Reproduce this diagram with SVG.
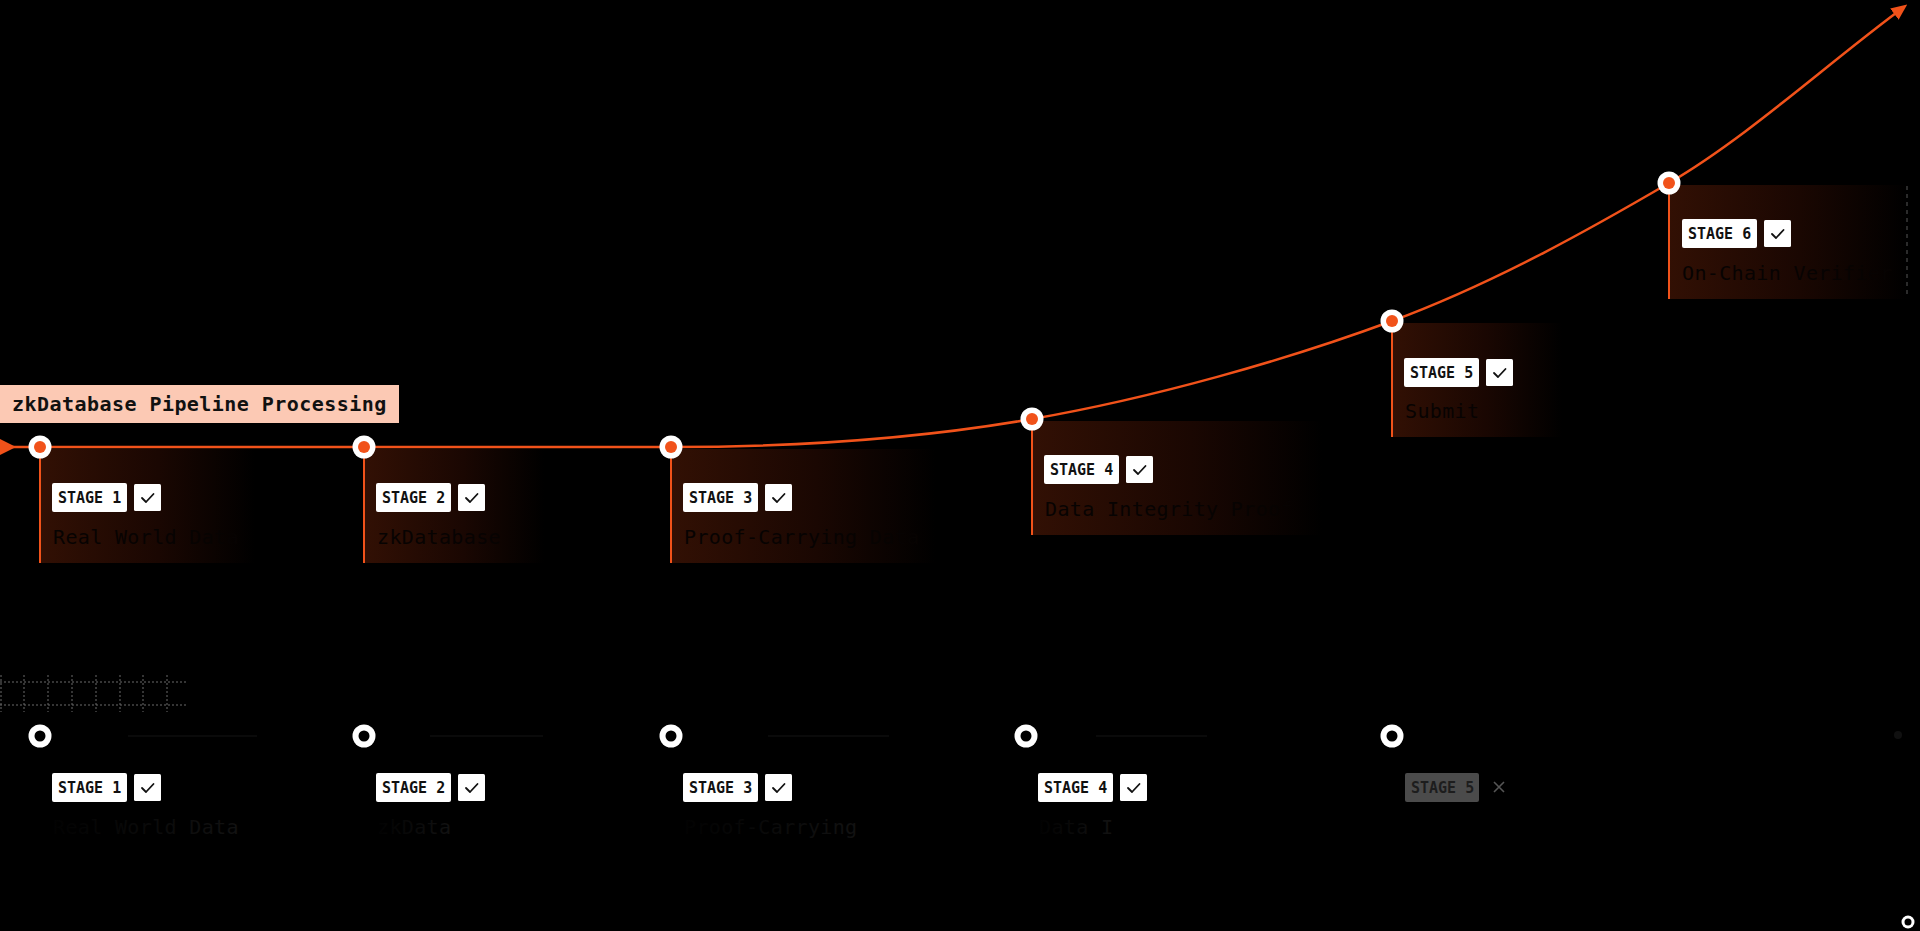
<svg xmlns="http://www.w3.org/2000/svg" width="1920" height="931" viewBox="0 0 1920 931">
<defs>
<style>
.bg{fill:#000}
.card{fill:url(#cardGrad)}
.stem{stroke:#f1521a;stroke-width:2}
.badge{fill:#fff}
.badgeOff{fill:#4b4b4b}
.btxt{font-family:"DejaVu Sans Mono","Liberation Mono",monospace;font-weight:bold;font-size:15px;fill:#111}
.btxtOff{font-family:"DejaVu Sans Mono","Liberation Mono",monospace;font-weight:bold;font-size:15px;fill:#1d1d1d}
.chk{fill:none;stroke:#111;stroke-width:1.8;stroke-linecap:round;stroke-linejoin:round}
.lbl{font-family:"DejaVu Sans Mono","Liberation Mono",monospace;font-size:20px;letter-spacing:0.35px;fill:#070302}
.lblDim{font-family:"DejaVu Sans Mono","Liberation Mono",monospace;font-size:20px;letter-spacing:0.35px;fill:url(#dimGrad)}
.ringW{fill:#fff}
.dotO{fill:#f1521a}
.dotK{fill:#000}
.curve{fill:none;stroke:#f1521a;stroke-width:2.5;stroke-linejoin:round}
.grid{stroke:#6a6a6a;stroke-width:1;stroke-dasharray:2 2;fill:none}
.track{stroke:#0e0e0e;stroke-width:1.5}
.title{font-family:"DejaVu Sans Mono","Liberation Mono",monospace;font-weight:bold;font-size:20px;letter-spacing:0.45px;fill:#111}
</style>
<linearGradient id="cardGrad" x1="0" y1="0" x2="1" y2="0">
<stop offset="0" stop-color="#321004"/>
<stop offset="0.55" stop-color="#1a0702"/>
<stop offset="1" stop-color="#000"/>
</linearGradient>
<linearGradient id="dimGrad" x1="0" y1="0" x2="1" y2="0">
<stop offset="0" stop-color="#020202"/>
<stop offset="1" stop-color="#121212"/>
</linearGradient>
<marker id="arrow" viewBox="0 0 16 14" refX="2" refY="7" markerWidth="16" markerHeight="14" markerUnits="userSpaceOnUse" orient="auto">
<path d="M0,0 L16,7 L0,14 z" fill="#f1521a"/>
</marker>
</defs>
<rect class="bg" x="0" y="0" width="1920" height="931"/>

<g id="grid">
<line class="grid" x1="0" y1="682" x2="188" y2="682"/>
<line class="grid" x1="0" y1="705" x2="188" y2="705"/>
<line class="grid" x1="1" y1="675" x2="1" y2="712"/>
<line class="grid" x1="24" y1="675" x2="24" y2="712"/>
<line class="grid" x1="48" y1="675" x2="48" y2="712"/>
<line class="grid" x1="72" y1="675" x2="72" y2="712"/>
<line class="grid" x1="96" y1="675" x2="96" y2="712"/>
<line class="grid" x1="120" y1="675" x2="120" y2="712"/>
<line class="grid" x1="143" y1="675" x2="143" y2="712"/>
<line class="grid" x1="167" y1="675" x2="167" y2="712"/>
</g>

<g id="connectors">
<path class="curve" d="M0,447 L671,447 C791.3,447 911.8,440 1032,419 C1152.2,398 1285.8,360.3 1392,321 C1498.2,281.7 1599.3,223.7 1669,183 C1745,138.6 1820,70 1896,13" marker-end="url(#arrow)"/>
<polygon points="0,439 16,447 0,455" fill="#f1521a"/>
<line class="track" x1="128" y1="736" x2="257" y2="736"/>
<line class="track" x1="430" y1="736" x2="543" y2="736"/>
<line class="track" x1="768" y1="736" x2="889" y2="736"/>
<line class="track" x1="1096" y1="736" x2="1207" y2="736"/>
</g>

<g id="title">
<rect x="0" y="385" width="399" height="38" fill="#fcc9b4"/>
<text class="title" x="12" y="411">zkDatabase Pipeline Processing</text>
</g>

<g id="stage1">
<rect class="card" x="40" y="449" width="215" height="114"/>
<line class="stem" x1="40" y1="447" x2="40" y2="563"/>
<circle class="ringW" cx="40" cy="447" r="11.5"/><circle class="dotO" cx="40" cy="447" r="6"/>
<rect class="badge" x="52" y="483" width="75" height="29" rx="2"/>
<text class="btxt" x="58" y="503">STAGE 1</text>
<rect class="badge" x="134" y="484" width="27" height="27" rx="1.5"/>
<path class="chk" d="M142,498 L146,502 L153.5,494"/>
<text class="lbl" x="53" y="544">Real World Data</text>
</g>

<g id="stage2">
<rect class="card" x="364" y="449" width="180" height="114"/>
<line class="stem" x1="364" y1="447" x2="364" y2="563"/>
<circle class="ringW" cx="364" cy="447" r="11.5"/><circle class="dotO" cx="364" cy="447" r="6"/>
<rect class="badge" x="376" y="483" width="75" height="29" rx="2"/>
<text class="btxt" x="382" y="503">STAGE 2</text>
<rect class="badge" x="458" y="484" width="27" height="27" rx="1.5"/>
<path class="chk" d="M466,498 L470,502 L477.5,494"/>
<text class="lbl" x="377" y="544">zkDatabase</text>
</g>

<g id="stage3">
<rect class="card" x="671" y="449" width="265" height="114"/>
<line class="stem" x1="671" y1="447" x2="671" y2="563"/>
<circle class="ringW" cx="671" cy="447" r="11.5"/><circle class="dotO" cx="671" cy="447" r="6"/>
<rect class="badge" x="683" y="483" width="75" height="29" rx="2"/>
<text class="btxt" x="689" y="503">STAGE 3</text>
<rect class="badge" x="765" y="484" width="27" height="27" rx="1.5"/>
<path class="chk" d="M773,498 L777,502 L784.5,494"/>
<text class="lbl" x="684" y="544">Proof-Carrying Data</text>
</g>

<g id="stage4">
<rect class="card" x="1032" y="421" width="290" height="114"/>
<line class="stem" x1="1032" y1="419" x2="1032" y2="535"/>
<circle class="ringW" cx="1032" cy="419" r="11.5"/><circle class="dotO" cx="1032" cy="419" r="6"/>
<rect class="badge" x="1044" y="455" width="75" height="29" rx="2"/>
<text class="btxt" x="1050" y="475">STAGE 4</text>
<rect class="badge" x="1126" y="456" width="27" height="27" rx="1.5"/>
<path class="chk" d="M1134,470 L1138,474 L1145.5,466"/>
<text class="lbl" x="1045" y="516">Data Integrity Proof</text>
</g>

<g id="stage5">
<rect class="card" x="1392" y="323" width="170" height="114"/>
<line class="stem" x1="1392" y1="321" x2="1392" y2="437"/>
<circle class="ringW" cx="1392" cy="321" r="11.5"/><circle class="dotO" cx="1392" cy="321" r="6"/>
<rect class="badge" x="1404" y="358" width="75" height="29" rx="2"/>
<text class="btxt" x="1410" y="378">STAGE 5</text>
<rect class="badge" x="1486" y="359" width="27" height="27" rx="1.5"/>
<path class="chk" d="M1494,373 L1498,377 L1505.5,369"/>
<text class="lbl" x="1405" y="418">Submit</text>
</g>

<g id="stage6">
<rect class="card" x="1669" y="185" width="238" height="114"/>
<line x1="1907" y1="186" x2="1907" y2="298" stroke="#3a3a3a" stroke-width="1.5" stroke-dasharray="4 4"/>
<line class="stem" x1="1669" y1="183" x2="1669" y2="299"/>
<circle class="ringW" cx="1669" cy="183" r="11.5"/><circle class="dotO" cx="1669" cy="183" r="6"/>
<rect class="badge" x="1682" y="219" width="75" height="29" rx="2"/>
<text class="btxt" x="1688" y="239">STAGE 6</text>
<rect class="badge" x="1764" y="220" width="27" height="27" rx="1.5"/>
<path class="chk" d="M1772,234 L1776,238 L1783.5,230"/>
<text class="lbl" x="1682" y="280">On-Chain Verifier</text>
</g>

<g id="bstage1">
<circle class="ringW" cx="40" cy="736" r="11.5"/><circle class="dotK" cx="40" cy="736" r="5.5"/>
<rect class="badge" x="52" y="773" width="75" height="29" rx="2"/>
<text class="btxt" x="58" y="793">STAGE 1</text>
<rect class="badge" x="134" y="774" width="27" height="27" rx="1.5"/>
<path class="chk" d="M142,788 L146,792 L153.5,784"/>
<text class="lblDim" x="53" y="834">Real World Data</text>
</g>

<g id="bstage2">
<circle class="ringW" cx="364" cy="736" r="11.5"/><circle class="dotK" cx="364" cy="736" r="5.5"/>
<rect class="badge" x="376" y="773" width="75" height="29" rx="2"/>
<text class="btxt" x="382" y="793">STAGE 2</text>
<rect class="badge" x="458" y="774" width="27" height="27" rx="1.5"/>
<path class="chk" d="M466,788 L470,792 L477.5,784"/>
<text class="lblDim" x="377" y="834">zkData</text>
</g>

<g id="bstage3">
<circle class="ringW" cx="671" cy="736" r="11.5"/><circle class="dotK" cx="671" cy="736" r="5.5"/>
<rect class="badge" x="683" y="773" width="75" height="29" rx="2"/>
<text class="btxt" x="689" y="793">STAGE 3</text>
<rect class="badge" x="765" y="774" width="27" height="27" rx="1.5"/>
<path class="chk" d="M773,788 L777,792 L784.5,784"/>
<text class="lblDim" x="684" y="834">Proof-Carrying</text>
</g>

<g id="bstage4">
<circle class="ringW" cx="1026" cy="736" r="11.5"/><circle class="dotK" cx="1026" cy="736" r="5.5"/>
<rect class="badge" x="1038" y="773" width="75" height="29" rx="2"/>
<text class="btxt" x="1044" y="793">STAGE 4</text>
<rect class="badge" x="1120" y="774" width="27" height="27" rx="1.5"/>
<path class="chk" d="M1128,788 L1132,792 L1139.5,784"/>
<text class="lblDim" x="1039" y="834">Data I</text>
</g>

<g id="bstage5">
<circle class="ringW" cx="1392" cy="736" r="11.5"/><circle class="dotK" cx="1392" cy="736" r="5.5"/>
<rect class="badgeOff" x="1405" y="773" width="74" height="29" rx="2"/>
<text class="btxtOff" x="1411" y="793">STAGE 5</text>
<path d="M1494,782 L1504,792 M1504,782 L1494,792" stroke="#555" stroke-width="1.6" fill="none"/>
</g>

<g id="bstage6">
<circle cx="1898" cy="735" r="4" fill="#101010"/>
</g>

<g id="endmark">
<circle class="ringW" cx="1908" cy="922" r="6.5"/><circle class="dotK" cx="1908" cy="922" r="3.5"/>
</g>
</svg>
